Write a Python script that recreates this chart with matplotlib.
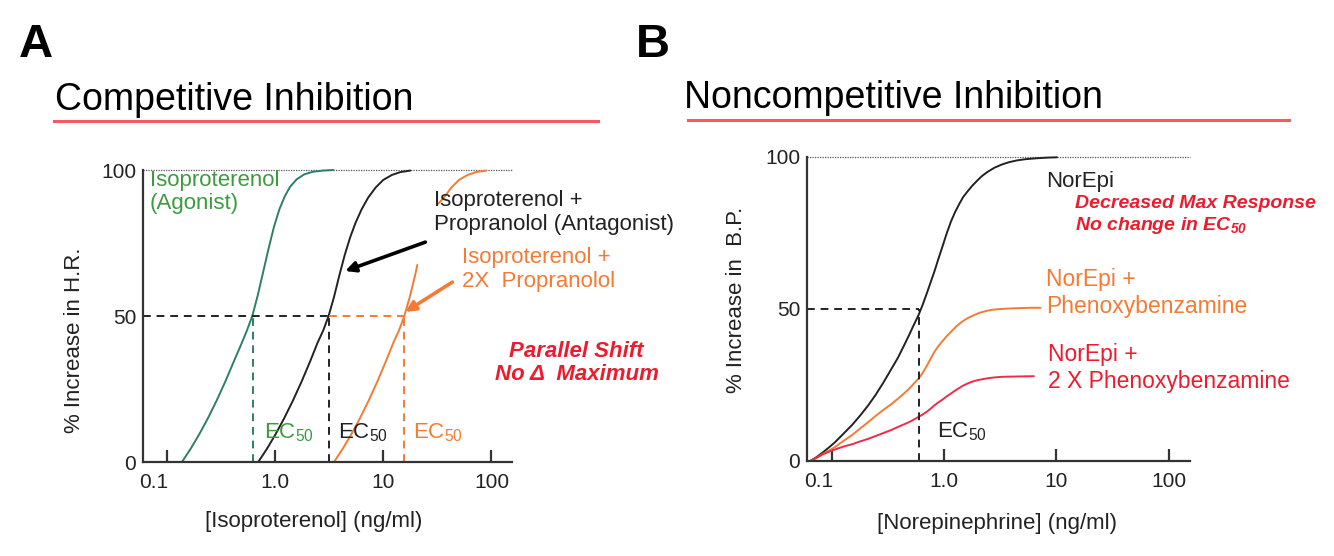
import numpy as np
import matplotlib
matplotlib.use("Agg")
import matplotlib.pyplot as plt
import matplotlib.transforms as mtransforms
from matplotlib.lines import Line2D

plt.rcParams["font.family"] = ["Liberation Sans", "DejaVu Sans"]
plt.rcParams["mathtext.fontset"] = "custom"
plt.rcParams["mathtext.rm"] = "Liberation Sans"
plt.rcParams["mathtext.it"] = "Liberation Sans:italic"
plt.rcParams["mathtext.bf"] = "Liberation Sans:bold"
plt.rcParams["mathtext.bfit"] = "Liberation Sans:italic:bold"

# ---- data: log10 of concentration (ng/ml), % response ----
tick_vals = [0.1, 1.0, 10, 100]
tick_labels = ["0.1", "1.0", "10", "100"]
y_ticks = [0, 50, 100]

# A: competitive inhibition
iso_logc = [-0.86, -0.78, -0.70, -0.62, -0.54, -0.46, -0.38, -0.31, -0.26,
            -0.21, -0.16, -0.11, -0.06, -0.01, 0.04, 0.09, 0.14, 0.20, 0.27,
            0.35, 0.44, 0.54]
iso_resp = [0, 4.5, 9.5, 15, 21, 27.5, 34.5, 40.5, 45, 50, 57, 65, 73, 80.5,
            86.5, 91, 94.3, 96.8, 98.5, 99.4, 99.8, 100]

prop_logc = [-0.155, -0.075, 0.005, 0.085, 0.165, 0.245, 0.325, 0.395, 0.445,
             0.495, 0.545, 0.595, 0.645, 0.695, 0.745, 0.80, 0.86, 0.93, 1.00,
             1.08, 1.16, 1.25]
prop_resp = [0, 4.5, 9.5, 15, 21, 27.5, 34.5, 41, 45, 50, 56.5, 64, 71, 77,
             82, 86.5, 90.5, 94, 96.6, 98.3, 99.3, 99.8]

# 2X propranolol curve is drawn with a break in it
prop2_logc = [0.545, 0.625, 0.705, 0.785, 0.865, 0.945, 1.025, 1.095, 1.145,
              1.195, 1.245, 1.295, 1.315, np.nan, 1.51, 1.56, 1.63, 1.70,
              1.78, 1.86, 1.95]
prop2_resp = [0, 4.5, 9.5, 15, 21, 27.5, 34.5, 41, 45, 50, 56.5, 64, 67.5,
              np.nan, 88.5, 90.5, 94, 96.6, 98.3, 99.3, 99.8]

ec50_iso = 0.62
ec50_prop = 3.15
ec50_prop2 = 15.7

# B: noncompetitive inhibition
ne_logc = [-1.19, -1.13, -1.08, -1.02, -0.97, -0.90, -0.82, -0.75, -0.675,
           -0.61, -0.54, -0.47, -0.41, -0.36, -0.31, -0.27, -0.227, -0.19,
           -0.15, -0.12, -0.086, -0.05, -0.01, 0.025, 0.062, 0.10, 0.135,
           0.17, 0.21, 0.25, 0.30, 0.34, 0.387, 0.45, 0.52, 0.58, 0.652,
           0.73, 0.83, 0.92, 1.006]
ne_resp = [0, 1.4, 2.8, 4.6, 6.2, 8.8, 11.8, 14.8, 18.3, 21.7, 25.8, 30.2, 34,
           37.7, 41.5, 44.7, 48, 51.4, 55.5, 58.7, 62.3, 66.5, 71, 75, 78.8,
           82, 84.5, 86.8, 88.7, 90.5, 92.4, 93.8, 95.1, 96.5, 97.6, 98.3,
           98.9, 99.3, 99.6, 99.8, 99.9]

pbz_logc = [-1.19, -1.13, -1.08, -1.02, -0.97, -0.90, -0.82, -0.75, -0.675,
            -0.61, -0.54, -0.47, -0.41, -0.36, -0.31, -0.27, -0.227, -0.19,
            -0.15, -0.12, -0.086, -0.05, -0.01, 0.025, 0.062, 0.11, 0.16,
            0.21, 0.268, 0.32, 0.38, 0.44, 0.504, 0.60, 0.68, 0.77, 0.858]
pbz_resp = [0, 1.1, 2.3, 3.5, 4.6, 6.5, 8.5, 10.6, 12.8, 14.8, 16.8, 18.7,
            20.5, 22.1, 23.8, 25.4, 27.1, 29, 31.5, 33.6, 35.9, 37.8, 39.6,
            41.1, 42.5, 44.3, 45.8, 47, 48, 48.8, 49.4, 49.8, 50, 50.2, 50.3,
            50.4, 50.4]

pbz2_logc = [-1.19, -1.13, -1.08, -1.02, -0.97, -0.90, -0.82, -0.75, -0.675,
             -0.61, -0.54, -0.47, -0.41, -0.36, -0.31, -0.27, -0.227, -0.19,
             -0.15, -0.12, -0.086, -0.05, -0.01, 0.025, 0.062, 0.10, 0.135,
             0.17, 0.21, 0.25, 0.30, 0.34, 0.387, 0.45, 0.52, 0.652, 0.80]
pbz2_resp = [0, 1.2, 2.2, 3.1, 3.8, 4.7, 5.5, 6.4, 7.3, 8.2, 9.2, 10.2, 11.2,
             12, 12.8, 13.6, 14.5, 15.3, 16.3, 17.2, 18.3, 19.3, 20.3, 21.3,
             22.2, 23.2, 24, 24.8, 25.5, 26.1, 26.6, 26.9, 27.2, 27.5, 27.7,
             27.8, 27.9]

ec50_ne = 0.593

# ---- styling ----
W, H = 1334, 556
XMIN, XMAX = 10 ** -1.22, 10 ** 2.19
GREEN_LINE = "#2d7f68"
GREEN_TXT = "#3d9b3f"
ORANGE = "#f47b35"
RED = "#ec1c2e"
RED_LINE = "#ee2c48"
UNDERLINE = "#f25a64"
DARK = "#222222"


def conc(logc):
    return np.power(10.0, np.asarray(logc, dtype=float))


def box(x0, ytop, x1, ybot):
    return [x0 / W, 1 - ybot / H, (x1 - x0) / W, (ybot - ytop) / H]


def style_axes(ax, fig):
    ax.set_xscale("log")
    ax.set_xlim(XMIN, XMAX)
    ax.set_ylim(0, 100)
    for s in ("top", "right"):
        ax.spines[s].set_visible(False)
    for s in ("left", "bottom"):
        ax.spines[s].set_linewidth(1.6)
        ax.spines[s].set_color("#333333")
    ax.set_xticks(tick_vals)
    ax.set_xticklabels(tick_labels)
    ax.xaxis.set_minor_locator(matplotlib.ticker.NullLocator())
    ax.set_yticks(y_ticks)
    ax.tick_params(axis="x", direction="in", length=9, width=1.6,
                   pad=8, labelsize=15, colors="#333333", labelcolor=DARK)
    ax.tick_params(axis="y", length=0, pad=5, labelsize=15, labelcolor=DARK)
    # the 0.1 label sits a little left of its tick in the original
    lab = ax.get_xticklabels()[0]
    lab.set_transform(lab.get_transform() +
                      mtransforms.ScaledTranslation(-0.13, 0, fig.dpi_scale_trans))
    ax.axhline(100, color="#555555", lw=0.9, ls=(0, (1, 1)), clip_on=False)


fig = plt.figure(figsize=(W / 100, H / 100), dpi=100)
fig.patch.set_facecolor("white")
curve = dict(lw=1.4, clip_on=False, solid_joinstyle="round",
             solid_capstyle="round")
dash = dict(lw=1.4, ls=(0, (4, 3)))

# ---- panel A ----
axA = fig.add_axes(box(143, 170, 512, 462))
style_axes(axA, fig)

axA.plot(conc(iso_logc), iso_resp, color=GREEN_LINE, **curve)
axA.plot(conc(prop_logc), prop_resp, color=DARK, **curve)
axA.plot(conc(prop2_logc), prop2_resp, color=ORANGE, **curve)

axA.plot([XMIN, ec50_prop], [50, 50], color=DARK, **dash)
axA.plot([ec50_prop, ec50_prop2], [50, 50], color=ORANGE, **dash)
axA.plot([ec50_iso, ec50_iso], [0, 50], color=GREEN_LINE, **dash)
axA.plot([ec50_prop, ec50_prop], [0, 50], color=DARK, **dash)
axA.plot([ec50_prop2, ec50_prop2], [0, 50], color=ORANGE, **dash)

axA.text(0.019, 0.866, "Isoproterenol\n(Agonist)", transform=axA.transAxes,
         color=GREEN_TXT, fontsize=16, va="baseline", linespacing=1.15)
axA.text(0.789, 0.795, "Isoproterenol +\nPropranolol (Antagonist)",
         transform=axA.transAxes, color=DARK, fontsize=16, va="baseline",
         linespacing=1.15)
axA.text(0.864, 0.599, "Isoproterenol +\n2X  Propranolol",
         transform=axA.transAxes, color=ORANGE, fontsize=16, va="baseline",
         linespacing=1.2)
axA.text(1.175, 0.281, "Parallel Shift\nNo \u0394  Maximum", transform=axA.transAxes,
         color=RED, fontsize=16, fontweight="bold", fontstyle="italic",
         ha="center", va="baseline", linespacing=1.15)
for fx, col in [(0.328, GREEN_TXT), (0.528, DARK), (0.732, ORANGE)]:
    axA.text(fx, 0.082, r"EC$_{50}$", transform=axA.transAxes, color=col,
             fontsize=16, va="baseline")

axA.annotate("", xy=(4.45, 65.4), xytext=(24.5, 75.3),
             arrowprops=dict(arrowstyle="-|>", color="black", lw=2.6,
                             mutation_scale=15, shrinkA=0, shrinkB=0))
axA.annotate("", xy=(16.0, 51.4), xytext=(43.5, 61.6),
             arrowprops=dict(arrowstyle="-|>", color=ORANGE, lw=2.6,
                             mutation_scale=15, shrinkA=0, shrinkB=0))

# ---- panel B ----
axB = fig.add_axes(box(807, 157, 1190, 461))
style_axes(axB, fig)

axB.plot(conc(ne_logc), ne_resp, color=DARK, **curve)
axB.plot(conc(pbz_logc), pbz_resp, color=ORANGE, **curve)
axB.plot(conc(pbz2_logc), pbz2_resp, color=RED_LINE, **curve)
axB.plot([XMIN, ec50_ne], [50, 50], color=DARK, **dash)
axB.plot([ec50_ne, ec50_ne], [0, 50], color=DARK, **dash)

axB.text(0.624, 0.901, "NorEpi", transform=axB.transAxes, color=DARK,
         fontsize=16, va="baseline")
axB.text(0.70, 0.760, "Decreased Max Response\nNo change in EC$_{\\mathbfit{50}}$",
         transform=axB.transAxes, color=RED, fontsize=14, fontweight="bold",
         fontstyle="italic", va="baseline", linespacing=1.2)
axB.text(0.624, 0.487, "NorEpi +\nPhenoxybenzamine", transform=axB.transAxes,
         color=ORANGE, fontsize=16.5, va="baseline", linespacing=1.2)
axB.text(0.629, 0.240, "NorEpi +\n2 X Phenoxybenzamine", transform=axB.transAxes,
         color=RED, fontsize=16.5, va="baseline", linespacing=1.2)
axB.text(0.339, 0.076, r"EC$_{50}$", transform=axB.transAxes, color=DARK,
         fontsize=16, va="baseline")

# ---- axis labels, titles, panel letters ----
fig.text(74 / W, 1 - 340 / H, "% Increase in H.R.", rotation=90, fontsize=16,
         ha="center", va="center", color=DARK)
fig.text(737 / W, 1 - 300 / H, "% Increase in  B.P.", rotation=90, fontsize=16,
         ha="center", va="center", color=DARK)
fig.text(314 / W, 1 - 521 / H, "[Isoproterenol] (ng/ml)", fontsize=16,
         ha="center", va="center", color=DARK)
fig.text(997 / W, 1 - 523 / H, "[Norepinephrine] (ng/ml)", fontsize=16,
         ha="center", va="center", color=DARK)

fig.text(55 / W, 1 - 110 / H, "Competitive Inhibition", fontsize=27,
         va="baseline", color="black")
fig.text(684 / W, 1 - 108 / H, "Noncompetitive Inhibition", fontsize=27,
         va="baseline", color="black")
fig.add_artist(Line2D([54 / W, 598 / W], [1 - 121 / H, 1 - 121 / H],
                      color=UNDERLINE, lw=2.2))
fig.add_artist(Line2D([688 / W, 1289 / W], [1 - 120 / H, 1 - 120 / H],
                      color=UNDERLINE, lw=2.2))

fig.text(19 / W, 1 - 57 / H, "A", fontsize=34, fontweight="bold",
         va="baseline", color="black")
fig.text(636 / W, 1 - 57 / H, "B", fontsize=34, fontweight="bold",
         va="baseline", color="black")

fig.savefig("out.png", dpi=100, facecolor="white")
